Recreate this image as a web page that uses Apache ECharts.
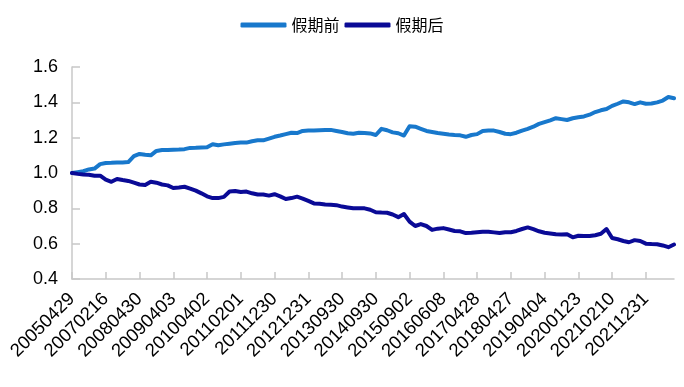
<!DOCTYPE html>
<html>
<head>
<meta charset="utf-8">
<script src="https://cdn.jsdelivr.net/npm/echarts@6/dist/echarts.min.js"></script>
<style>html,body{margin:0;padding:0;background:#fff}#c{width:684px;height:387px}</style>
</head>
<body>
<div id="c"></div>
<script>
const categories = [
"20050429","20050930","20051230","20060125","20060428","20060929",
"20070216","20070430","20070928","20071228","20080205","20080403",
"20080430","20080606","20080912","20080926","20081231","20090123",
"20090403","20090430","20090527","20090930","20091231","20100212",
"20100402","20100430","20100611","20100921","20100930","20101231",
"20110201","20110401","20110429","20110603","20110909","20110930",
"20111230","20120120","20120330","20120427","20120621","20120928",
"20121231","20130208","20130403","20130426","20130607","20130918",
"20130930","20131231","20140130","20140403","20140430","20140530",
"20140930","20141231","20150217","20150403","20150430","20150619",
"20150902","20150925","20150930","20151231","20160205","20160401",
"20160608","20160914","20160930","20161230","20170126","20170331",
"20170428","20170526","20170929","20171229","20180214","20180404",
"20180427","20180615","20180921","20180928","20181228","20190201",
"20190404","20190430","20190606","20190912","20190930","20191231",
"20200123","20200403","20200430","20200624","20200930","20201231",
"20210210","20210402","20210430","20210611","20210917","20210930",
"20211231","20220128","20220401","20220429","20220602","20220909"
];
const preHoliday = [
1.000,1.005,1.010,1.020,1.025,1.050,1.057,1.058,1.060,1.060,1.062,1.095,
1.108,1.103,1.100,1.125,1.130,1.130,1.132,1.133,1.135,1.142,1.143,1.145,
1.146,1.163,1.157,1.162,1.166,1.170,1.172,1.172,1.180,1.185,1.185,1.195,
1.205,1.212,1.220,1.228,1.226,1.238,1.240,1.240,1.242,1.243,1.244,1.238,
1.232,1.225,1.222,1.228,1.227,1.224,1.215,1.250,1.242,1.230,1.225,1.212,
1.265,1.262,1.250,1.238,1.232,1.226,1.222,1.218,1.215,1.213,1.205,1.215,
1.220,1.238,1.240,1.240,1.232,1.222,1.220,1.228,1.240,1.250,1.262,1.278,
1.288,1.298,1.310,1.305,1.300,1.310,1.315,1.320,1.330,1.345,1.355,1.362,
1.380,1.392,1.405,1.400,1.390,1.400,1.392,1.393,1.400,1.410,1.430,1.423
];
const postHoliday = [
1.000,0.995,0.992,0.990,0.985,0.985,0.962,0.950,0.966,0.960,0.955,0.945,
0.935,0.932,0.950,0.945,0.935,0.930,0.915,0.918,0.922,0.912,0.900,0.885,
0.868,0.858,0.858,0.865,0.895,0.898,0.893,0.895,0.885,0.878,0.878,0.872,
0.880,0.868,0.853,0.858,0.866,0.855,0.842,0.828,0.826,0.822,0.820,0.818,
0.810,0.805,0.800,0.800,0.800,0.792,0.778,0.776,0.775,0.765,0.750,0.768,
0.725,0.700,0.711,0.700,0.678,0.685,0.688,0.680,0.672,0.670,0.660,0.662,
0.665,0.668,0.668,0.664,0.660,0.665,0.665,0.672,0.683,0.692,0.682,0.670,
0.662,0.658,0.653,0.652,0.653,0.636,0.645,0.643,0.643,0.648,0.656,0.683,
0.632,0.625,0.615,0.608,0.620,0.615,0.600,0.598,0.597,0.590,0.580,0.595
];
const seriesNames = ["假期前","假期后"];
const yTicks = {min:0.4, max:1.6, interval:0.2};

const chart = echarts.init(document.getElementById('c'), null, {renderer:'canvas'});
const axisGray = '#c8c8c8';
chart.setOption({
  animation:false,
  backgroundColor:'#fff',
  color:['#1878CC','#0A0A96'],
  legend:{
    top:12, left:'center',
    itemWidth:46, itemHeight:5, itemGap:5,
    icon:'roundRect',
    textStyle:{fontFamily:'Noto Sans CJK SC', fontSize:16, color:'#000'},
    data:seriesNames
  },
  grid:{left:72, right:10, top:67, bottom:108, containLabel:false},
  xAxis:{
    type:'category', data:categories, boundaryGap:false,
    axisLine:{lineStyle:{color:axisGray, width:1.5}},
    axisTick:{inside:true, length:7, interval:5, lineStyle:{color:axisGray, width:1.5}},
    axisLabel:{interval:5, rotate:45, margin:17, fontFamily:'Liberation Sans', fontSize:18.5, color:'#000'},
    splitLine:{show:false}
  },
  yAxis:{
    type:'value', min:yTicks.min, max:yTicks.max, interval:yTicks.interval,
    axisLine:{show:true, lineStyle:{color:axisGray, width:1.5}},
    axisTick:{show:true, inside:true, length:8, lineStyle:{color:axisGray, width:1.5}},
    axisLabel:{margin:14, fontFamily:'Liberation Sans', fontSize:18, color:'#000',
      formatter:v=>v.toFixed(1)},
    splitLine:{show:false}
  },
  series:[
    {name:seriesNames[0], type:'line', data:preHoliday, showSymbol:false, smooth:false,
     lineStyle:{width:4, cap:'round', join:'round'}},
    {name:seriesNames[1], type:'line', data:postHoliday, showSymbol:false, smooth:false,
     lineStyle:{width:4, cap:'round', join:'round'}}
  ]
});
</script>
</body>
</html>
